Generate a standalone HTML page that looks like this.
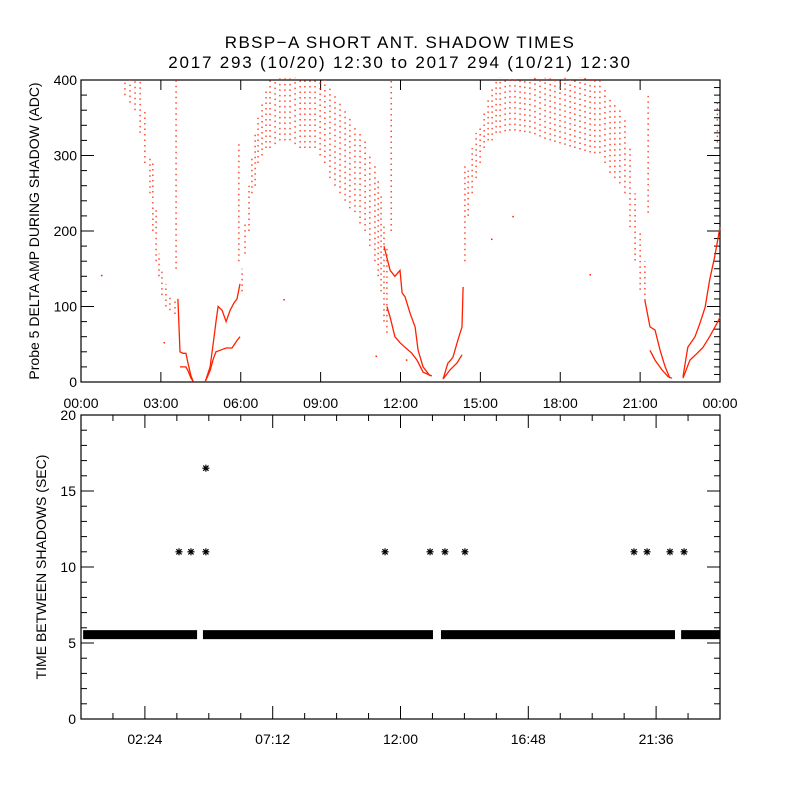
<!DOCTYPE html>
<html><head><meta charset="utf-8"><style>
html,body{margin:0;padding:0;background:#fff;}
svg{display:block;font-family:"Liberation Sans",sans-serif;}
</style></head><body>
<svg id="c" width="800" height="800" viewBox="0 0 800 800" xmlns="http://www.w3.org/2000/svg">
<text x="400" y="48" text-anchor="middle" font-size="17" letter-spacing="1.4">RBSP−A SHORT ANT. SHADOW TIMES</text>
<text x="400" y="68" text-anchor="middle" font-size="17" letter-spacing="1.8">2017 293 (10/20) 12:30 to 2017 294 (10/21) 12:30</text>
<text transform="translate(39,231) rotate(-90)" text-anchor="middle" font-size="14">Probe 5 DELTA AMP DURING SHADOW (ADC)</text>
<text transform="translate(46,567) rotate(-90)" text-anchor="middle" font-size="14">TIME BETWEEN SHADOWS (SEC)</text>
<g id="topPanel"></g>
<g id="botPanel"></g>
</svg>
<script>
// ---- top panel data (hours, ADC) ----
const streakHours=[1.65,1.84,2.03,2.22,2.40,2.59,2.70,2.82,2.93,3.04,3.19,3.34,3.53,3.57,5.93,6.05,6.16,6.31,6.42,6.54,6.65,6.80,6.95,7.10,7.29,7.47,7.66,7.85,8.04,8.23,8.41,8.60,8.79,8.98,9.16,9.35,9.54,9.73,9.92,10.10,10.29,10.48,10.67,10.85,11.04,11.16,11.27,11.38,11.49,11.65,14.42,14.54,14.69,14.84,14.99,15.14,15.29,15.44,15.59,15.74,15.93,16.11,16.30,16.49,16.67,16.86,17.05,17.24,17.43,17.62,17.80,17.99,18.18,18.37,18.55,18.74,18.93,19.12,19.30,19.49,19.68,19.87,20.05,20.24,20.43,20.62,20.81,21.00,21.18,21.30,23.90];
const streakLo=[380,370,360,330,290,250,200,160,140,115,100,95,90,150,160,120,170,200,250,260,290,300,310,310,315,320,320,320,315,310,310,310,310,300,290,270,260,250,240,230,225,210,200,180,160,140,120,80,65,200,160,220,250,270,290,310,320,320,330,330,332,333,333,332,331,330,328,325,322,320,318,316,314,312,310,308,306,304,303,303,290,277,270,263,250,205,161,122,108,224,317];
const streakHi=[400,400,400,400,360,300,290,230,170,150,130,115,112,405,320,150,210,260,300,330,350,370,390,400,400,405,405,405,405,405,405,405,400,400,400,390,380,370,360,350,340,330,320,300,290,270,250,210,180,405,290,280,310,330,340,360,375,390,400,405,405,405,405,405,405,405,405,405,405,405,405,405,405,405,405,405,405,400,400,400,390,375,370,365,350,310,250,200,160,383,370];
const lineUpperHours=[3.64,3.72,3.83,3.94,4.02,4.13,4.21,null,4.66,4.85,4.96,5.07,5.15,5.30,5.45,5.60,5.75,5.86,5.97,null,11.38,11.61,11.79,11.98,12.06,12.17,12.36,12.55,12.66,12.85,13.11,null,13.60,13.78,13.86,13.97,14.16,14.31,14.35,null,21.18,21.37,21.56,21.75,21.94,22.12,null,22.61,22.79,23.06,23.25,23.44,23.61,23.80,24.0];
const lineUpperVals=[110,40,38,38,25,8,1,null,0,20,50,80,100,95,80,95,105,110,130,null,180,148,140,148,118,113,91,73,42,20,8,null,4,25,28,33,56,73,126,null,108,73,69,42,20,5,null,7,46,60,78,99,135,166,205];
const lineLowerHours=[3.72,3.94,4.02,4.13,4.21,null,4.66,4.85,4.96,5.07,5.22,5.45,5.67,5.86,5.97,null,11.49,11.61,11.79,11.98,12.17,12.43,12.62,12.85,13.18,null,13.60,13.86,14.12,14.31,null,21.37,21.56,21.82,22.05,22.20,null,22.61,22.87,23.14,23.36,23.61,23.89,24.0];
const lineLowerVals=[20,20,15,5,1,null,0,15,30,40,42,45,45,55,60,null,100,86,60,52,46,38,29,13,8,null,4,16,25,36,null,42,29,16,7,5,null,5,29,38,46,60,78,86];
const strayHours=[0.75,3.10,7.60,11.06,15.40,16.20,19.10,12.20];
const strayVals=[142,53,110,35,190,220,143,30];
const topXTicks=["00:00","03:00","06:00","09:00","12:00","15:00","18:00","21:00","00:00"];
const topYTicks=[0,100,200,300,400];
// ---- bottom panel data (hours, seconds) ----
const bandStart=[0.08,4.58,13.52,22.54];
const bandEnd=[4.36,13.22,22.31,24.0];
const bandValue=[5.55,5.55,5.55,5.55];
const outlierHours=[3.68,4.13,4.69,4.69,11.42,13.11,13.67,14.42,20.77,21.26,22.12,22.65];
const outlierVals=[11,11,11,16.5,11,11,11,11,11,11,11,11];
const botXTicks=["02:24","07:12","12:00","16:48","21:36"];
const botYTicks=[0,5,10,15,20];

const NS="http://www.w3.org/2000/svg";
function mk(tag,attrs,parent){const e=document.createElementNS(NS,tag);for(const k in attrs)e.setAttribute(k,attrs[k]);parent.appendChild(e);return e;}
const L=81,R=720;
const tx=h=>L+(R-L)*h/24;
const ty=v=>382-v*0.755;
const T0=80,B0=382;
const by=v=>719-v*15.2;
const T1=415,B1=719;
const topG=document.getElementById('topPanel'),botG=document.getElementById('botPanel');

// top frame
let f=mk('rect',{x:L,y:T0,width:R-L,height:B0-T0,fill:'none',stroke:'#000','stroke-width':1.2},topG);


topXTicks.forEach((t,i)=>{const x=tx(i*3);
  let a=mk('line',{x1:x,x2:x,y1:B0,y2:B0-10,stroke:'#000'},topG);
  
  
  mk('line',{x1:x,x2:x,y1:T0,y2:T0+10,stroke:'#000'},topG);
  let s=mk('text',{x:x,y:B0+26,'text-anchor':'middle','font-size':14},topG);s.textContent=t;
  
  
});
for(let v=0;v<=400;v+=10){const y=ty(v);const maj=v%100===0;
  if(maj||v%20===0){mk('line',{x1:L,x2:L+(maj?13:6),y1:y,y2:y,stroke:'#000'},topG);}
  mk('line',{x1:R,x2:R-(maj?13:6),y1:y,y2:y,stroke:'#000'},topG);}
topYTicks.forEach(v=>{let s=mk('text',{x:L-4,y:ty(v)+5,'text-anchor':'end','font-size':14},topG);s.textContent=v;
  
  });
const red='#ff2000';
streakHours.forEach((h,i)=>{const lo=Math.max(streakLo[i],0),hi=Math.min(streakHi[i],403);
  let e=mk('line',{x1:tx(h),x2:tx(h),y1:ty(lo),y2:ty(hi),stroke:red,'stroke-width':1.2,'stroke-dasharray':'1.5 4'},topG);
  
  
});
function poly(hs,vs,name){let d='',pen=false;hs.forEach((h,i)=>{if(h===null){pen=false;return;}d+=(pen?'L':'M')+tx(h).toFixed(1)+' '+ty(vs[i]).toFixed(1)+' ';pen=true;});
  let p=mk('path',{d:d,fill:'none',stroke:red,'stroke-width':1.3},topG);
  
  }
poly(lineUpperHours,lineUpperVals,'adc-upper-branch');
poly(lineLowerHours,lineLowerVals,'adc-lower-branch');
strayHours.forEach((h,i)=>{let r=mk('rect',{x:tx(h),y:ty(strayVals[i]),width:1.5,height:1.5,fill:red},topG);
  
  });

// bottom frame
let f2=mk('rect',{x:L,y:T1,width:R-L,height:B1-T1,fill:'none',stroke:'#000','stroke-width':1.2},botG);


for(let k=0;k<=20;k++){const h=k*1.2,x=tx(h),maj=(k-2)%4===0;
  mk('line',{x1:x,x2:x,y1:B1,y2:B1-(maj?13:6),stroke:'#000'},botG);
  mk('line',{x1:x,x2:x,y1:T1,y2:T1+(maj?13:6),stroke:'#000'},botG);}
botXTicks.forEach((t,i)=>{let s=mk('text',{x:tx(2.4+i*4.8),y:B1+25,'text-anchor':'middle','font-size':14},botG);s.textContent=t;
  
  });
for(let v=0;v<=20;v++){const y=by(v),maj=v%5===0;
  mk('line',{x1:L,x2:L+(maj?13:6),y1:y,y2:y,stroke:'#000'},botG);
  mk('line',{x1:R,x2:R-(maj?13:6),y1:y,y2:y,stroke:'#000'},botG);}
botYTicks.forEach(v=>{let s=mk('text',{x:L-5,y:by(v)+5,'text-anchor':'end','font-size':14},botG);s.textContent=v;
  
  });
bandStart.forEach((s,i)=>{const x1=tx(s),x2=tx(bandEnd[i]),y=by(bandValue[i]);
  let r=mk('rect',{x:x1,y:y-4.5,width:x2-x1,height:9,fill:'#000'},botG);
  
  });
function star(x,y,g){const s=3.5;let gg=mk('g',{stroke:'#000','stroke-width':1.2},g);
  mk('line',{x1:x-s,x2:x+s,y1:y,y2:y},gg);mk('line',{x1:x,x2:x,y1:y-s,y2:y+s},gg);
  mk('line',{x1:x-s*0.75,x2:x+s*0.75,y1:y-s*0.75,y2:y+s*0.75},gg);mk('line',{x1:x-s*0.75,x2:x+s*0.75,y1:y+s*0.75,y2:y-s*0.75},gg);return gg;}
outlierHours.forEach((h,i)=>{let g=star(tx(h),by(outlierVals[i]),botG);
  
  });
</script>
</body></html>
